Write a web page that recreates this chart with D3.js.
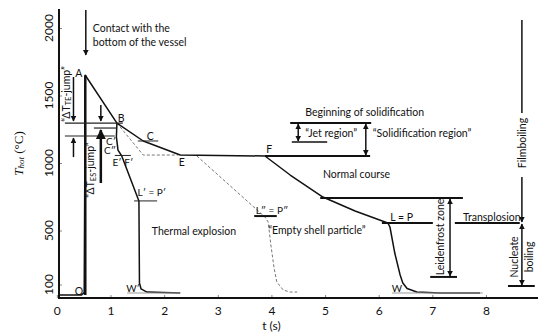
<!DOCTYPE html>
<html>
<head>
<meta charset="utf-8">
<script src="https://cdn.jsdelivr.net/npm/d3@7"></script>
<style>
  body { margin: 0; background: #fff; }
  text { font-family: Lato, "Open Sans", sans-serif; fill: #111; }
</style>
</head>
<body>
<svg id="chart" width="550" height="336"></svg>
<script>
// curves: [time (s), temperature (°C)]
const normalCourse = [[0.04,22],[0.46,22],[0.51,40],[0.53,1650],[1.12,1296],[1.61,1163],[2.30,1059],[3.88,1052],
  [4.35,911],[4.96,748],[5.56,644],[6.17,556],[6.21,526],[6.30,333],[6.40,170],[6.45,111],[6.53,70],[6.71,44],[7.14,37],[7.89,37]];
const thermalExplosion = [[1.12,1296],[1.11,1193],[1.14,1096],[1.21,1052],[1.53,719],[1.54,111],[1.57,67],[1.68,44],[2.30,37]];
const emptyShell = [[2.61,1052],[3.88,600],[3.94,563],[3.99,393],[4.05,222],[4.10,119],[4.22,59],[4.35,44],[4.48,44]];
const dashedFromB = [[1.12,1296],[1.61,1059],[2.26,1059]];
const jump = [[0.53,22],[0.53,1650]];

const xTicks = [0,1,2,3,4,5,6,7,8];
const yTicks = [100,500,1000,1500,2000];

// horizontal marker lines: [T, t1, t2, width, colour]
const hLines = [
  [1296,0.15,1.23,1.2,"#222"],[1200,0.15,1.08,1.2,"#222"],[1259,0.69,1.12,1.2,"#222"],
  [1163,1.51,1.89,1,"#222"],[1056,1.08,1.38,1,"#222"],[1052,3.88,5.84,2,"#111"],
  [719,1.44,1.87,1,"#222"],[37,1.31,2.30,1,"#999"],[607,3.68,4.10,2,"#111"],
  [1296,4.35,5.86,2,"#111"],[1156,4.38,5.04,1.5,"#111"],[741,4.91,7.57,2,"#111"],
  [556,6.06,7.01,2,"#111"],[556,7.42,8.63,2,"#111"],[156,6.96,7.46,2,"#111"],
  [89,8.41,8.91,2,"#111"],[37,6.25,7.94,1,"#999"]
];
// vertical lines / arrows: [t, T1, T2, head at start, head at end, width]
const vLines = [
  [0.54,2133,1800,0,1,1.5],[0.31,1637,1311,0,1,1.5],[0.31,1044,1185,0,1,1.5],
  [0.82,1430,1311,0,1,1.5],[0.82,852,1244,0,1,2.5],
  [4.50,1289,1163,1,1,1.5],[5.76,1289,1059,1,1,1.5],[7.33,733,163,1,1,1.5],
  [8.67,2059,1370,0,0,1.5],[8.67,896,563,0,1,1.5],[8.67,548,96,1,1,1.5]
];
// labels: [text, t, T, anchor, rotate, size]
const labels = [
  ["Contact with the",0.67,2000,"start",0,10.5],["bottom of the vessel",0.67,1896,"start",0,10.5],
  ["A",0.41,1667,"middle",0,10.5],["B",1.20,1333,"middle",0,10.5],
  ["C\u2032",1.01,1163,"middle",0,10],["C\u2033",0.99,1096,"middle",0,10],
  ["E\u2032",1.12,1007,"middle",0,10],["F\u2032",1.34,1007,"middle",0,10],
  ["C",1.74,1200,"middle",0,10.5],["E",2.33,1007,"middle",0,10.5],["F",3.96,1104,"middle",0,10.5],
  ["L\u2032 = P\u2032",1.77,785,"middle",0,10],["Thermal explosion",1.77,496,"start",0,10.5],
  ["W\u2032",1.42,74,"middle",0,10],["O",0.41,52,"middle",0,10.5],
  ["L\u2033 = P\u2033",4.01,652,"middle",0,10],["\u201CEmpty shell particle\u201D",3.94,504,"start",0,10.5],
  ["Normal course",4.96,919,"start",0,10.5],["L = P",6.43,600,"middle",0,10.5],
  ["Transplosion",7.57,600,"start",0,10.5],["Leidenfrost zone",7.14,452,"middle",-90,10.5],
  ["Filmboiling",8.67,1148,"middle",-90,10.5],["Nucleate",8.52,304,"middle",-90,10.5],
  ["boiling",8.80,304,"middle",-90,10.5],["W",6.34,74,"middle",0,10],
  ["Beginning of solidification",4.63,1378,"start",0,10.5],["\u201CJet region\u201D",4.63,1222,"start",0,10.5],
  ["\u201CSolidification region\u201D",5.89,1222,"start",0,10.5]
];

const svg = d3.select("#chart");
const x = d3.scaleLinear().domain([0, 9]).range([56.85, 539.6]);
const y = d3.scaleLinear().domain([0, 2000]).range([298, 28]);

svg.append("defs").append("marker")
  .attr("id", "head").attr("viewBox", "0 0 10 10").attr("refX", 9).attr("refY", 5)
  .attr("markerWidth", 4).attr("markerHeight", 4).attr("markerUnits", "strokeWidth")
  .attr("orient", "auto-start-reverse")
  .append("path").attr("d", "M0,0L10,5L0,10Z").attr("fill", "#111");

// axes
svg.append("g").attr("transform", `translate(0,${y(0)})`)
  .call(d3.axisBottom(x).tickValues(xTicks).tickSizeInner(-3).tickSizeOuter(0).tickPadding(8))
  .call(g => g.select(".domain").remove())
  .call(g => g.selectAll(".tick line").attr("stroke", "#888"))
  .call(g => g.selectAll(".tick text").attr("font-size", 12).attr("font-family", "Lato, sans-serif").attr("fill", "#111"));

svg.append("g").attr("transform", `translate(${x(0.04)},0)`)
  .call(d3.axisLeft(y).tickValues(yTicks).tickSizeInner(-3).tickSizeOuter(0).tickFormat(""))
  .call(g => g.select(".domain").remove())
  .call(g => g.selectAll(".tick line").attr("stroke", "#888"));

svg.selectAll(".ylab").data(yTicks).enter().append("text")
  .attr("transform", d => `translate(48,${y(d)}) rotate(-90)`)
  .attr("text-anchor", "middle").attr("dominant-baseline", "central")
  .attr("font-size", 12).text(d => d);

svg.append("line").attr("x1", x(0.04)).attr("x2", x(0.04)).attr("y1", y(0) + 1).attr("y2", y(2140))
  .attr("stroke", "#111").attr("stroke-width", 2);
svg.append("line").attr("x1", x(0.04) - 1).attr("x2", x(8.97)).attr("y1", y(0)).attr("y2", y(0))
  .attr("stroke", "#111").attr("stroke-width", 2);

svg.append("text").attr("x", x(4)).attr("y", 325).attr("text-anchor", "middle")
  .attr("dominant-baseline", "central").attr("font-size", 12).text("t (s)");

const yl = svg.append("text").attr("transform", `translate(18,${y(1070)}) rotate(-90)`)
  .attr("text-anchor", "middle").attr("dominant-baseline", "central")
  .style("font-family", "'Liberation Serif', serif").attr("font-size", 13);
yl.append("tspan").attr("font-style", "italic").text("T");
yl.append("tspan").attr("font-style", "italic").attr("font-size", 9).attr("dy", 3).text("hot");
yl.append("tspan").attr("dy", -3).text(" (\u00B0C)");

// curves
const line = d3.line().x(d => x(d[0])).y(d => y(d[1]));
svg.append("path").attr("d", line(dashedFromB)).attr("fill", "none")
  .attr("stroke", "#777").attr("stroke-width", 1).attr("stroke-dasharray", "3,2");
svg.append("path").attr("d", line(emptyShell)).attr("fill", "none")
  .attr("stroke", "#777").attr("stroke-width", 1).attr("stroke-dasharray", "3,2");
svg.append("path").attr("d", line(normalCourse)).attr("fill", "none")
  .attr("stroke", "#111").attr("stroke-width", 1.5).attr("stroke-linejoin", "round");
svg.append("path").attr("d", line(thermalExplosion)).attr("fill", "none")
  .attr("stroke", "#111").attr("stroke-width", 1.5).attr("stroke-linejoin", "round");
svg.append("path").attr("d", line(jump)).attr("fill", "none")
  .attr("stroke", "#111").attr("stroke-width", 2.5);

// marker lines and arrows
svg.selectAll(".hl").data(hLines).enter().append("line")
  .attr("x1", d => x(d[1])).attr("x2", d => x(d[2])).attr("y1", d => y(d[0])).attr("y2", d => y(d[0]))
  .attr("stroke", d => d[4]).attr("stroke-width", d => d[3]);

svg.selectAll(".vl").data(vLines).enter().append("line")
  .attr("x1", d => x(d[0])).attr("x2", d => x(d[0])).attr("y1", d => y(d[1])).attr("y2", d => y(d[2]))
  .attr("stroke", "#111").attr("stroke-width", d => d[5])
  .attr("marker-start", d => d[3] ? "url(#head)" : null)
  .attr("marker-end", d => d[4] ? "url(#head)" : null);

// labels
svg.selectAll(".lab").data(labels).enter().append("text")
  .attr("transform", d => `translate(${x(d[1])},${y(d[2])}) rotate(${d[4]})`)
  .attr("text-anchor", d => d[3]).attr("dominant-baseline", "central")
  .attr("font-size", d => d[5])
  .text(d => d[0]);

// jump labels with subscripts
function jumpLabel(sub, t, T) {
  const tx = svg.append("text").attr("transform", `translate(${x(t)},${y(T)}) rotate(-90)`)
    .attr("text-anchor", "middle").attr("dominant-baseline", "central").attr("font-size", 10.5);
  tx.append("tspan").text("\u201C\u0394T");
  tx.append("tspan").attr("font-size", 7.5).attr("dy", 2.5).text(sub);
  tx.append("tspan").attr("dy", -2.5).text("-jump\u201D");
}
jumpLabel("TE", 0.17, 1511);
jumpLabel("ES", 0.62, 948);
</script>
</body>
</html>
